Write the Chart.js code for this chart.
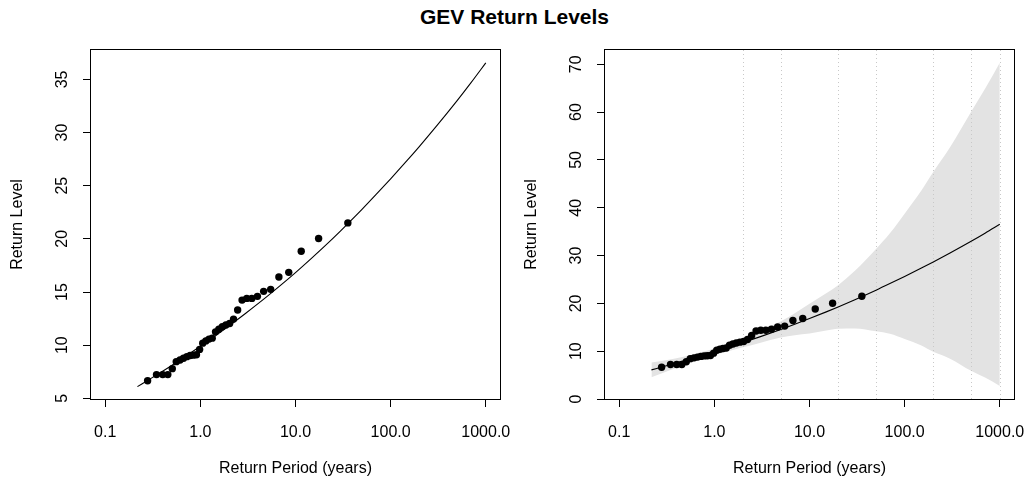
<!DOCTYPE html>
<html>
<head>
<meta charset="utf-8">
<script src="https://cdn.jsdelivr.net/npm/chart.js@4.4.1/dist/chart.umd.min.js"></script>
<style>
  html, body { margin: 0; padding: 0; background: #fff; }
  #wrap { position: relative; width: 1029px; height: 484px; overflow: hidden; }
  #title { position: absolute; left: 0; top: 5px; width: 1029px; text-align: center;
           font: bold 21px "Liberation Sans", Arial, sans-serif; color: #000; }
  .panel { position: absolute; top: 0; width: 515px; height: 484px; }
</style>
</head>
<body>
<div id="wrap">
  <div id="title">GEV Return Levels</div>
  <div class="panel" style="left:0"><canvas id="left" width="515" height="484"></canvas></div>
  <div class="panel" style="left:514px"><canvas id="right" width="515" height="484"></canvas></div>
</div>
<script>
// Empirical return periods (years) and observed levels, sorted
const obsPeriod = [0.279, 0.346, 0.402, 0.455, 0.507, 0.558, 0.611, 0.665, 0.721, 0.781,
                   0.843, 0.910, 0.982, 1.059, 1.142, 1.233, 1.333, 1.443, 1.565, 1.701,
                   1.855, 2.031, 2.232, 2.466, 2.743, 3.073, 3.476, 3.979, 4.625, 5.485,
                   6.690, 8.491, 11.49, 17.49, 35.50];
const obsLevel = [6.65, 7.23, 7.23, 7.23, 7.79, 8.45, 8.61, 8.77, 8.92, 9.02,
                  9.06, 9.10, 9.60, 10.19, 10.40, 10.57, 10.66, 11.25, 11.50, 11.73,
                  11.90, 12.04, 12.45, 13.30, 14.24, 14.40, 14.40, 14.59, 15.06, 15.25,
                  16.41, 16.85, 18.83, 20.03, 21.50];

// Fitted return level curve and its confidence band, on one period grid
const fitPeriod = [0.218, 0.3, 0.5, 0.7, 1, 1.5, 2, 3, 5, 7, 10, 15, 20, 30, 50, 70,
                   100, 150, 200, 300, 500, 700, 1000];
const fitLevel = [6.10, 6.85, 8.09, 8.95, 9.89, 10.99, 11.81, 13.00, 14.56, 15.64, 16.82,
                  18.23, 19.26, 20.78, 22.77, 24.15, 25.65, 27.40, 28.68, 30.55, 33.00,
                  34.69, 36.55];
const ciUpper = [7.65, 8.08, 8.94, 9.71, 10.59, 11.84, 12.81, 14.26, 16.26, 17.92, 19.92,
                 22.11, 23.81, 26.81, 31.37, 34.65, 38.75, 43.60, 47.48, 52.65, 60.10,
                 64.89, 70.35];
const ciLower = [4.55, 5.62, 7.24, 8.19, 9.19, 10.14, 10.81, 11.74, 12.86, 13.36, 13.72,
                 14.35, 14.71, 14.75, 14.17, 13.65, 12.55, 11.20, 9.88, 8.45, 5.90,
                 4.49, 2.75];

// Axis ticks
const periodTicks = [0.1, 1, 10, 100, 1000];
const periodTickLabels = ['0.1', '1.0', '10.0', '100.0', '1000.0'];
const leftLevelTicks = [5, 10, 15, 20, 25, 30, 35];
const rightLevelTicks = [0, 10, 20, 30, 40, 50, 60, 70];
const gridPeriods = [2, 5, 20, 50, 200, 500, 1000];

const FONT = '"Liberation Sans", Arial, Helvetica, sans-serif';
const zip = (xs, ys) => xs.map((x, i) => ({ x: x, y: ys[i] }));

// Full frame around the plotting region
const frame = {
  id: 'frame',
  afterDraw(chart) {
    const a = chart.chartArea, ctx = chart.ctx;
    ctx.save();
    ctx.strokeStyle = '#000';
    ctx.lineWidth = 1;
    ctx.strokeRect(a.left + 0.5, a.top + 0.5, a.right - a.left - 1, a.bottom - a.top - 1);
    ctx.restore();
  }
};

// Dotted vertical reference lines, drawn just above the confidence band
const periodGrid = {
  id: 'periodGrid',
  afterDatasetDraw(chart, args, opts) {
    if (!opts.values || args.index !== opts.after) return;
    const a = chart.chartArea, ctx = chart.ctx, xs = chart.scales.x;
    ctx.save();
    ctx.strokeStyle = '#c8c8c8';
    ctx.lineWidth = 1;
    ctx.setLineDash([1, 3]);
    opts.values.forEach(v => {
      const px = Math.round(xs.getPixelForValue(v)) + 0.5;
      ctx.beginPath();
      ctx.moveTo(px, a.top + 1);
      ctx.lineTo(px, a.bottom - 1);
      ctx.stroke();
    });
    ctx.restore();
  }
};

function makePanel(id, yMin, yMax, yTicks, withBand) {
  const datasets = [
    { data: zip(obsPeriod, obsLevel), showLine: false, pointRadius: 3.7,
      pointBackgroundColor: '#000', pointBorderWidth: 0, pointBorderColor: '#000' },
    { data: zip(fitPeriod, fitLevel), showLine: true, borderColor: '#000', borderWidth: 1.1,
      pointRadius: 0, cubicInterpolationMode: 'monotone', fill: false }
  ];
  if (withBand) {
    datasets.push(
      { data: zip(fitPeriod, ciUpper), showLine: true, borderColor: 'rgba(0,0,0,0)', borderWidth: 1,
        pointRadius: 0, cubicInterpolationMode: 'monotone', fill: '+1', backgroundColor: '#e3e3e3' },
      { data: zip(fitPeriod, ciLower), showLine: true, borderColor: 'rgba(0,0,0,0)', borderWidth: 1,
        pointRadius: 0, cubicInterpolationMode: 'monotone', fill: false }
    );
  }
  return new Chart(document.getElementById(id), {
    type: 'scatter',
    data: { datasets: datasets },
    plugins: [periodGrid, frame],
    options: {
      responsive: false,
      animation: false,
      events: [],
      layout: { padding: { top: 49, right: 14, left: 0, bottom: 0 } },
      plugins: {
        legend: { display: false },
        tooltip: { enabled: false },
        periodGrid: withBand ? { values: gridPeriods, after: 2 } : {}
      },
      scales: {
        x: {
          type: 'logarithmic',
          min: Math.pow(10, -1.16),
          max: Math.pow(10, 3.16),
          afterBuildTicks: s => { s.ticks = periodTicks.map(v => ({ value: v })); },
          afterFit: s => { s.height = 84; s.paddingLeft = 0; s.paddingRight = 0; },
          ticks: {
            autoSkip: false, maxRotation: 0, padding: 16, color: '#000',
            font: { family: FONT, size: 16 },
            callback: v => periodTickLabels[periodTicks.indexOf(v)]
          },
          grid: { display: true, drawOnChartArea: false, drawTicks: true, tickLength: 7,
                  color: '#000', lineWidth: 1 },
          border: { display: false },
          title: { display: true, text: 'Return Period (years)', color: '#000',
                   font: { family: FONT, size: 16 }, padding: { top: 0, bottom: 6 } }
        },
        y: {
          type: 'linear',
          min: yMin,
          max: yMax,
          afterBuildTicks: s => { s.ticks = yTicks.map(v => ({ value: v })); },
          afterFit: s => { s.width = 90; s.paddingTop = 0; s.paddingBottom = 0; },
          ticks: {
            minRotation: 90, maxRotation: 90, crossAlign: 'center', padding: 12, color: '#000',
            font: { family: FONT, size: 16 },
            callback: v => String(v)
          },
          grid: { display: true, drawOnChartArea: false, drawTicks: true, tickLength: 7,
                  color: '#000', lineWidth: 1 },
          border: { display: false },
          title: { display: true, text: 'Return Level', color: '#000',
                   font: { family: FONT, size: 16 }, padding: { top: 8, bottom: 0 } }
        }
      }
    }
  });
}

makePanel('left', 4.84, 37.86, leftLevelTicks, false);
makePanel('right', -0.2, 73.2, rightLevelTicks, true);
</script>
</body>
</html>
